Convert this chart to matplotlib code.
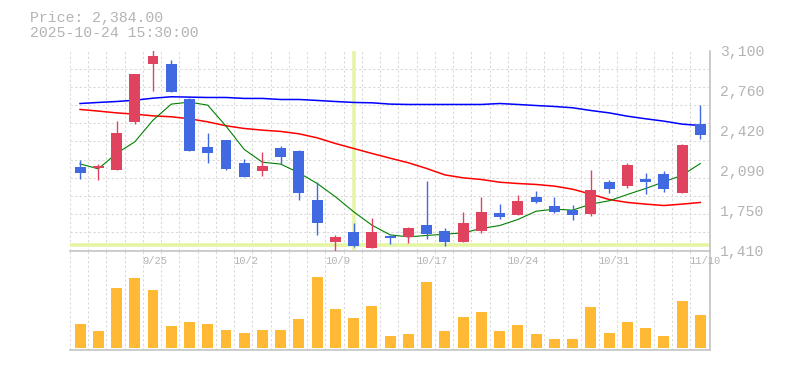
import numpy as np
import matplotlib
matplotlib.use("Agg")
import matplotlib.pyplot as plt

# trading days shown on the chart
dates = ["9/18", "9/19", "9/22", "9/24", "9/25", "9/26", "9/29", "9/30", "10/1", "10/2",
         "10/3", "10/6", "10/7", "10/8", "10/9", "10/10", "10/14", "10/15", "10/16", "10/17",
         "10/20", "10/21", "10/22", "10/23", "10/24", "10/27", "10/28", "10/29", "10/30", "10/31",
         "11/4", "11/5", "11/6", "11/7", "11/10"]

opens = [2114, 2109, 2089, 2495, 2988, 2985, 2689, 2283, 2342, 2148,
         2083, 2275, 2249, 1835, 1483, 1565, 1433, 1523, 1525, 1624,
         1573, 1483, 1573, 1726, 1711, 1861, 1787, 1756, 1720, 1987,
         1957, 2013, 2055, 1897, 2478]
highs = [2173, 2145, 2503, 2900, 3110, 3019, 2700, 2402, 2342, 2182,
         2241, 2289, 2258, 1987, 1540, 1641, 1683, 1545, 1607, 1996,
         1599, 1734, 1861, 1802, 1878, 1911, 1861, 1793, 2089, 2004,
         2148, 2064, 2080, 2314, 2638]
lows = [2013, 2004, 2089, 2480, 2757, 2751, 2252, 2151, 2092, 2033,
        2041, 2137, 1838, 1542, 1407, 1441, 1427, 1466, 1475, 1509,
        1449, 1483, 1559, 1678, 1711, 1810, 1728, 1669, 1703, 1897,
        1940, 1889, 1906, 1892, 2354]
closes = [2066, 2117, 2402, 2900, 3052, 2751, 2252, 2235, 2100, 2033,
          2123, 2202, 1897, 1644, 1523, 1449, 1565, 1517, 1599, 1551,
          1483, 1641, 1734, 1695, 1827, 1821, 1734, 1711, 1920, 1931,
          2131, 1990, 1931, 2300, 2384]

# moving averages
ma5 = [2142, 2100, 2230, 2328, 2511, 2647, 2664, 2638, 2461, 2264,
       2156, 2140, 2066, 1976, 1864, 1737, 1624, 1542, 1525, 1537,
       1548, 1559, 1596, 1621, 1672, 1742, 1759, 1751, 1802, 1830,
       1883, 1934, 1990, 2046, 2145]
ma25 = [2602, 2588, 2573, 2562, 2548, 2540, 2523, 2497, 2464, 2441,
        2427, 2416, 2396, 2362, 2314, 2272, 2230, 2190, 2151, 2103,
        2049, 2024, 2010, 1987, 1976, 1968, 1954, 1928, 1886, 1841,
        1816, 1802, 1790, 1802, 1816]
ma75 = [2652, 2661, 2669, 2680, 2697, 2709, 2706, 2703, 2703, 2695,
        2695, 2686, 2686, 2678, 2669, 2661, 2658, 2647, 2644, 2644,
        2644, 2644, 2644, 2652, 2644, 2635, 2627, 2616, 2593, 2573,
        2545, 2523, 2503, 2478, 2466]

volumes = [72, 51, 180, 210, 174, 66, 78, 72, 54, 45,
           54, 54, 87, 213, 117, 90, 126, 36, 42, 198,
           51, 93, 108, 51, 69, 42, 27, 27, 123, 45,
           78, 60, 36, 141, 99]

price_ticks = [1410, 1750, 2090, 2420, 2760, 3100]
label_idx = [4, 9, 14, 19, 24, 29, 34]
cross_idx = 15
cross_price = 1454

UP = "#e0435e"
DOWN = "#4169e1"
GRID = "#d9d9d9"
AXC = "#c4c4c4"
TXT = "#b4b4b4"
HL = "#e4f5a6"
MONO = "Liberation Mono"

x = np.arange(len(dates))
o = np.array(opens); c = np.array(closes)
cols = [UP if cc >= oo else DOWN for oo, cc in zip(o, c)]

W, H = 785, 370
fig = plt.figure(figsize=(7.85, 3.70), dpi=100)
axv = fig.add_axes([70 / W, 1 - 350 / H, 640 / W, 99.5 / H])
ax = fig.add_axes([70 / W, 1 - 250.5 / H, 640 / W, 200 / H])
axv.patch.set_alpha(0)
ax.patch.set_alpha(0)

xlim = (-0.55, 34.53)
for a in (ax, axv):
    a.set_xlim(*xlim)
    a.set_xticks(np.arange(len(dates) + 1) - 0.55, minor=True)
    a.grid(which="minor", axis="x", color=GRID, lw=0.75, ls=(0, (2.2, 2.2)))
    for s in ("top", "left"):
        a.spines[s].set_visible(False)
    for s in ("right", "bottom"):
        a.spines[s].set_color(AXC)
        a.spines[s].set_linewidth(1.2)
    a.tick_params(which="both", length=0)
    a.set_axisbelow(True)

# price panel
ax.set_ylim(1410, 3100)
ax.set_yticks(np.linspace(1410, 3100, 12), minor=True)
ax.grid(which="minor", axis="y", color=GRID, lw=0.75, ls=(0, (2.2, 2.2)))
ax.yaxis.tick_right()
ax.set_yticks(price_ticks)
ax.set_yticklabels([f"{v:,}" for v in price_ticks], family=MONO, fontsize=10.6, color=TXT)
ax.tick_params(axis="y", pad=7)
ax.set_xticks([i - 0.58 for i in label_idx])
ax.set_xticklabels([dates[i] for i in label_idx], family=MONO, fontsize=7.6,
                   color=TXT, ha="left")
ax.tick_params(axis="x", pad=4)

ax.axhline(cross_price, color=HL, lw=2.6, zorder=1)
ax.axvline(cross_idx, color=HL, lw=2.6, zorder=1)

ax.plot(x, ma75, color="#0000ff", lw=1.1, zorder=3)
ax.plot(x, ma25, color="#ff0000", lw=1.1, zorder=3)
ax.plot(x, ma5, color="#008000", lw=0.8, zorder=3)

ax.vlines(x, lows, highs, colors=cols, lw=1.0, zorder=4)
body = np.maximum(np.abs(c - o), 12)
ax.bar(x, body, bottom=np.minimum(o, c), width=0.6, color=cols, zorder=5)

# volume panel
axv.set_ylim(-6, 292)
axv.set_yticks([])
axv.set_xticks([])
axv.bar(x, volumes, width=0.6, color="#ffb934", zorder=3)

fig.text(30 / W, 1 - 18 / H, f"Price: {closes[-1]:,.2f}", family=MONO, fontsize=10.7,
         color=TXT, va="center")
fig.text(30 / W, 1 - 33 / H, "2025-10-24 15:30:00", family=MONO, fontsize=10.7,
         color=TXT, va="center")

fig.savefig("out.png", dpi=100)
